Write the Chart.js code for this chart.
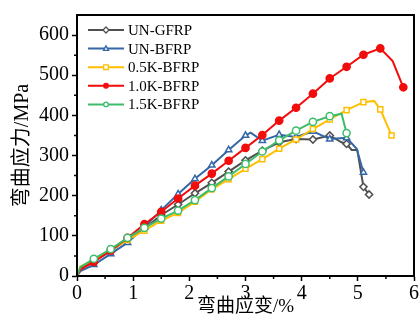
<!DOCTYPE html>
<html>
<head>
<meta charset="utf-8">
<script src="https://cdn.jsdelivr.net/npm/chart.js@4.4.0/dist/chart.umd.min.js"></script>
<style>
  body { margin: 0; background: #fff; }
  #wrap { width: 420px; height: 326px; }
</style>
</head>
<body>
<div id="wrap"><canvas id="flexChart"></canvas></div>
<script>
// strain (%) and stress (MPa) for each specimen group
const gfrpX = [0, 0.06, 0.3, 0.6, 0.9, 1.2, 1.5, 1.8, 2.1, 2.4, 2.7, 3.0, 3.3, 3.6, 3.9, 4.2, 4.5, 4.71, 4.8, 4.89, 4.99, 5.1, 5.2];
const gfrpY = [0, 18, 38, 62, 92, 118, 152, 178, 206, 232, 260, 288, 312, 333, 341, 340, 350, 333, 329, 314, 314, 222, 203];

const bfrpX = [0, 0.06, 0.3, 0.6, 0.9, 1.2, 1.5, 1.8, 2.1, 2.4, 2.7, 3.0, 3.09, 3.3, 3.6, 3.9, 4.2, 4.5, 4.8, 4.98, 5.1];
const bfrpY = [0, 12, 28, 55, 83, 122, 164, 204, 242, 276, 314, 350, 357, 337, 352, 346, 360, 341, 344, 317, 258];

const k05X = [0, 0.06, 0.3, 0.6, 0.9, 1.2, 1.5, 1.8, 2.1, 2.4, 2.7, 3.0, 3.3, 3.6, 3.9, 4.2, 4.5, 4.8, 5.1, 5.29, 5.4, 5.6];
const k05Y = [0, 24, 40, 64, 90, 113, 138, 157, 185, 216, 241, 267, 291, 317, 340, 366, 390, 413, 433, 436, 415, 350];

const k10X = [0, 0.06, 0.3, 0.6, 0.9, 1.2, 1.5, 1.8, 2.1, 2.4, 2.7, 3.0, 3.3, 3.6, 3.9, 4.2, 4.5, 4.8, 5.1, 5.4, 5.62, 5.81];
const k10Y = [0, 16, 35, 63, 95, 129, 160, 193, 225, 255, 287, 319, 351, 387, 419, 454, 492, 521, 551, 567, 535, 470];

const k15X = [0, 0.06, 0.3, 0.6, 0.9, 1.2, 1.5, 1.8, 2.1, 2.4, 2.7, 3.0, 3.3, 3.6, 3.9, 4.2, 4.5, 4.71, 4.8];
const k15Y = [0, 22, 43, 67, 95, 120, 143, 163, 189, 219, 248, 279, 310, 338, 362, 384, 398, 404, 356];

// points drawn without a marker (intermediate readings)
const gfrpPlain = [0, 0.06, 4.71, 4.89, 4.99];
const bfrpPlain = [0, 0.06, 3.09, 4.98];
const k05Plain = [0, 0.06, 5.29];
const k10Plain = [0, 0.06, 5.62];
const k15Plain = [0, 0.06, 4.71];

const seriesNames = ['UN-GFRP', 'UN-BFRP', '0.5K-BFRP', '1.0K-BFRP', '1.5K-BFRP'];
const xTicks = [0, 1, 2, 3, 4, 5, 6];
const yTicks = [0, 100, 200, 300, 400, 500, 600];

const SERIF = '"Liberation Serif", "Times New Roman", "Noto Sans CJK SC", serif';

function makeSet(label, xs, ys, plain, color, style, fill, order) {
  return {
    label: label,
    data: xs.map((x, i) => ({ x: x, y: ys[i] })),
    showLine: true,
    borderColor: color,
    borderWidth: 2,
    tension: 0,
    pointStyle: style,
    pointRadius: xs.map(x => plain.includes(x) ? 0 : 3.6),
    pointBorderWidth: 1.5,
    pointBorderColor: color,
    pointBackgroundColor: fill,
    order: order
  };
}

const datasets = [
  makeSet(seriesNames[0], gfrpX, gfrpY, gfrpPlain, '#505050', 'rectRot', '#fff', 4),
  makeSet(seriesNames[1], bfrpX, bfrpY, bfrpPlain, '#3467a6', 'triangle', '#fff', 3),
  makeSet(seriesNames[2], k05X, k05Y, k05Plain, '#ffbf00', 'rect', '#fff', 2),
  makeSet(seriesNames[3], k10X, k10Y, k10Plain, '#f20d0d', 'circle', '#f20d0d', 1),
  makeSet(seriesNames[4], k15X, k15Y, k15Plain, '#3dbd6a', 'circle', '#fff', 0)
];

function marker(ctx, style, x, y, r) {
  ctx.beginPath();
  if (style === 'circle') {
    ctx.arc(x, y, r, 0, Math.PI * 2);
  } else if (style === 'rect') {
    ctx.rect(x - r, y - r, r * 2, r * 2);
  } else if (style === 'rectRot') {
    ctx.moveTo(x, y - r * 1.3); ctx.lineTo(x + r * 1.3, y);
    ctx.lineTo(x, y + r * 1.3); ctx.lineTo(x - r * 1.3, y);
    ctx.closePath();
  } else if (style === 'triangle') {
    ctx.moveTo(x, y - r * 1.2); ctx.lineTo(x + r * 1.1, y + r * 0.8);
    ctx.lineTo(x - r * 1.1, y + r * 0.8);
    ctx.closePath();
  }
  ctx.fill();
  ctx.stroke();
}

// frame, minor ticks and the in-plot legend
const decor = {
  id: 'decor',
  afterDraw(chart) {
    const ctx = chart.ctx;
    const a = chart.chartArea;
    const xs = chart.scales.x, ys = chart.scales.y;
    ctx.save();
    ctx.strokeStyle = '#000';
    ctx.lineWidth = 1.5;
    ctx.beginPath();
    for (let v = 0.5; v < 6; v += 1) {
      const px = xs.getPixelForValue(v);
      ctx.moveTo(px, a.bottom); ctx.lineTo(px, a.bottom + 3);
    }
    for (let v = 50; v < 650; v += 100) {
      const py = ys.getPixelForValue(v);
      ctx.moveTo(a.left, py); ctx.lineTo(a.left - 3, py);
    }
    ctx.stroke();
    ctx.lineWidth = 2;
    ctx.strokeRect(a.left, a.top, a.right - a.left, a.bottom - a.top);

    chart.data.datasets.forEach((ds, i) => {
      const y = a.top + 15 + i * 18.6;
      const x0 = a.left + 11;
      ctx.strokeStyle = ds.borderColor;
      ctx.lineWidth = 2;
      ctx.beginPath();
      ctx.moveTo(x0, y); ctx.lineTo(x0 + 36, y);
      ctx.stroke();
      ctx.lineWidth = 1.3;
      ctx.fillStyle = ds.pointBackgroundColor;
      marker(ctx, ds.pointStyle, x0 + 18, y, 2.3);
      ctx.fillStyle = '#000';
      ctx.font = '15px ' + SERIF;
      ctx.textBaseline = 'middle';
      ctx.fillText(ds.label, x0 + 40, y + 1);
    });
    ctx.restore();
  }
};

new Chart(document.getElementById('flexChart'), {
  type: 'scatter',
  data: { datasets: datasets },
  plugins: [decor],
  options: {
    responsive: true,
    maintainAspectRatio: false,
    animation: false,
    layout: { padding: { top: 10, right: 4, left: 0, bottom: 0 } },
    plugins: { legend: { display: false }, tooltip: { enabled: false } },
    scales: {
      x: {
        type: 'linear',
        min: 0,
        max: 6,
        afterFit(scale) { scale.height = 50; },
        afterBuildTicks(scale) { scale.ticks = xTicks.map(v => ({ value: v })); },
        grid: { drawOnChartArea: false, tickLength: 5, tickColor: '#000', tickWidth: 1.5 },
        border: { color: '#000', width: 2 },
        ticks: { color: '#000', padding: 1, font: { family: SERIF, size: 20 } },
        title: { display: true, text: '弯曲应变/%', color: '#000', padding: { bottom: 8 }, font: { family: SERIF, size: 19 } }
      },
      y: {
        type: 'linear',
        min: 0,
        max: 650,
        afterFit(scale) { scale.width = 77; },
        afterBuildTicks(scale) { scale.ticks = yTicks.map(v => ({ value: v })); },
        grid: { drawOnChartArea: false, tickLength: 5, tickColor: '#000', tickWidth: 1.5 },
        border: { color: '#000', width: 2 },
        ticks: { color: '#000', padding: 3, font: { family: SERIF, size: 20 } },
        title: { display: true, text: '弯曲应力/MPa', color: '#000', padding: { top: 11 }, font: { family: SERIF, size: 20 } }
      }
    }
  }
});
</script>
</body>
</html>
